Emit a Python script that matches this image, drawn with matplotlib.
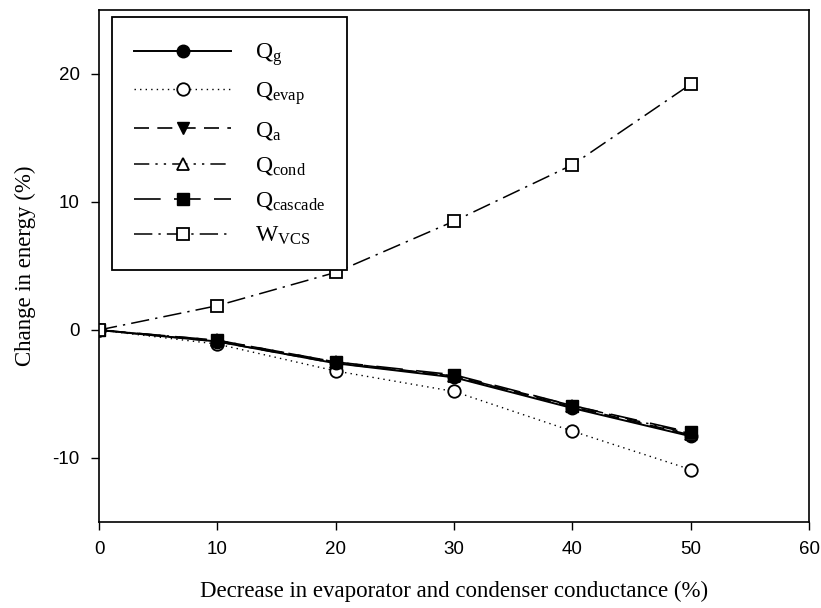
import matplotlib.pyplot as plt

# data
conductance = [0, 10, 20, 30, 40, 50]
q_g = [0, -0.9, -2.6, -3.7, -6.1, -8.3]
q_evap = [0, -1.1, -3.2, -4.8, -7.9, -10.9]
q_a = [0, -0.9, -2.6, -3.6, -6.0, -8.2]
q_cond = [0, -0.8, -2.5, -3.6, -5.9, -8.1]
q_cascade = [0, -0.8, -2.5, -3.5, -5.9, -8.0]
w_vcs = [0, 1.9, 4.5, 8.5, 12.9, 19.2]

labels = [r'$\mathrm{Q_g}$', r'$\mathrm{Q_{evap}}$', r'$\mathrm{Q_a}$',
          r'$\mathrm{Q_{cond}}$', r'$\mathrm{Q_{cascade}}$', r'$\mathrm{W_{VCS}}$']

plt.rcParams['mathtext.fontset'] = 'custom'
plt.rcParams['mathtext.rm'] = 'Liberation Serif'
plt.rcParams['mathtext.it'] = 'Liberation Serif:italic'
plt.rcParams['axes.unicode_minus'] = False

fig = plt.figure(figsize=(8.21, 6.08), dpi=100)
ax = fig.add_axes([99 / 821, 86 / 608, 710 / 821, 512 / 608])

ms = 9
ax.plot(conductance, q_evap, color='black', lw=1, ls=(0, (1, 3)),
        marker='o', ms=ms, mfc='white', mec='black', mew=1.3, label=labels[1])
ax.plot(conductance, q_g, color='black', lw=1.4, ls='-',
        marker='o', ms=ms, mfc='black', mec='black', label=labels[0])
ax.plot(conductance, q_a, color='black', lw=1.2, ls=(0, (9, 5)),
        marker='v', ms=ms, mfc='black', mec='black', label=labels[2])
ax.plot(conductance, q_cond, color='black', lw=1.1, ls=(0, (10, 4, 1.5, 4, 1.5, 4)),
        marker='^', ms=ms, mfc='white', mec='black', mew=1.3, label=labels[3])
ax.plot(conductance, q_cascade, color='black', lw=1.2, ls=(0, (16, 8)),
        marker='s', ms=ms - 1, mfc='black', mec='black', label=labels[4])
ax.plot(conductance, w_vcs, color='black', lw=1.1, ls=(0, (12, 4, 1.5, 4)),
        marker='s', ms=ms - 1, mfc='white', mec='black', mew=1.3, label=labels[5])

ax.set_xlim(0, 60)
ax.set_ylim(-15, 25)
ax.set_xticks([0, 10, 20, 30, 40, 50, 60])
ax.set_yticks([-10, 0, 10, 20])
ax.tick_params(direction='out', length=6, width=1, labelsize=13.5, pad=8)
for lab in ax.get_xticklabels() + ax.get_yticklabels():
    lab.set_family('Liberation Sans')
for s in ax.spines.values():
    s.set_linewidth(1.2)

ax.set_xlabel('Decrease in evaporator and condenser conductance (%)',
              family='Liberation Serif', fontsize=16.5, labelpad=16)
ax.set_ylabel('Change in energy (%)', family='Liberation Serif', fontsize=16.5, labelpad=12)

handles, labs = ax.get_legend_handles_labels()
order = [1, 0, 2, 3, 4, 5]
leg = ax.legend([handles[i] for i in order], [labs[i] for i in order],
                loc='upper left', bbox_to_anchor=(0.0183, 0.9856), borderaxespad=0,
                fontsize=17, handlelength=4.1, handletextpad=1.0,
                labelspacing=0.45, borderpad=0.95, frameon=True,
                fancybox=False, edgecolor='black', framealpha=1)
leg.get_frame().set_linewidth(1.3)

fig.savefig('out.png', dpi=100)
